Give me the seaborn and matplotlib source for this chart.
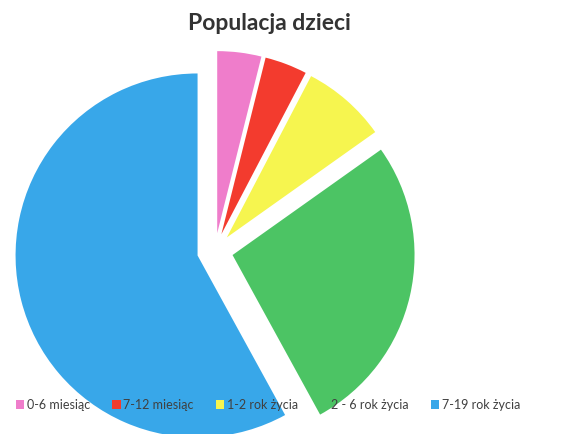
import matplotlib
matplotlib.use("Agg")
import matplotlib.pyplot as plt
import seaborn as sns

# Data (shares in %)
categories = ["0-6 miesiąc", "7-12 miesiąc", "1-2 rok życia", "2 - 6 rok życia", "7-19 rok życia"]
values = [3.9, 3.75, 7.5, 26.8, 57.9]
colors = ["#EF7DCB", "#F33B2E", "#F6F54F", "#4CC464", "#38A7E9"]
title = "Populacja dzieci"

sns.set_theme(style="white")
plt.rcParams['font.family'] = ['Lato', 'DejaVu Sans']

fig = plt.figure(figsize=(5.71, 4.34), dpi=100)
ax = fig.add_axes([0, 0, 1, 1])

wedges, _ = ax.pie(values, colors=colors, startangle=90, counterclock=False,
                   explode=[18] * len(values), radius=182, center=(215, 183),
                   wedgeprops=dict(linewidth=0))
ax.set_xlim(0, 571)
ax.set_ylim(0, 434)
ax.set_aspect('equal')
ax.axis('off')

ax.text(269, 434 - 23, title, ha='center', va='center', fontsize=16.5,
        fontweight='bold', color='#333333')

leg = ax.legend(wedges, categories, loc='center', bbox_to_anchor=(268, 29),
                bbox_transform=ax.transData, ncol=5, frameon=False, fontsize=9,
                handlelength=0.7, handleheight=0.7, handletextpad=0.2,
                columnspacing=1.75, labelcolor='#404040')

fig.savefig("out.png", dpi=100)
